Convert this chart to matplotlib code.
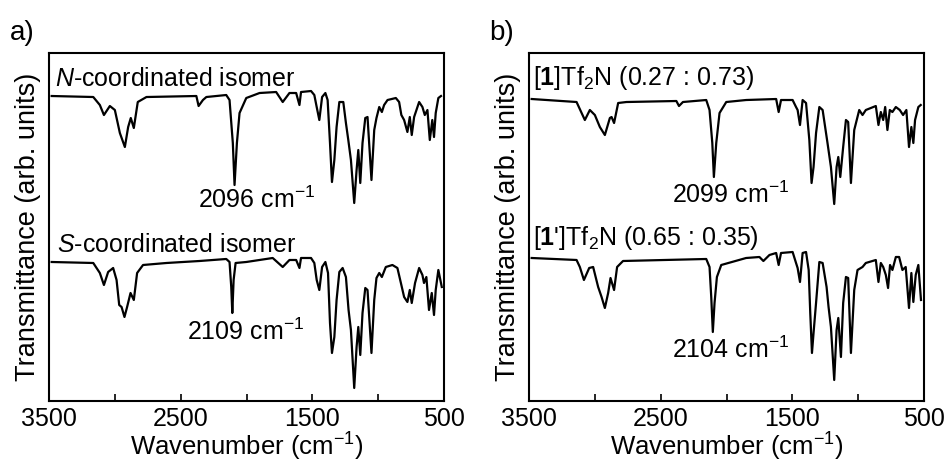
import numpy as np
import matplotlib
matplotlib.use("Agg")
import matplotlib.pyplot as plt

plt.rcParams["font.family"] = ["Liberation Sans", "DejaVu Sans"]
plt.rcParams["mathtext.fontset"] = "custom"
plt.rcParams["mathtext.rm"] = "Liberation Sans"
plt.rcParams["mathtext.it"] = "Liberation Sans:italic"
plt.rcParams["mathtext.bf"] = "Liberation Sans:bold"

# panel a, N-coordinated isomer (upper trace)
wn_a_top = [3480, 3164, 3114, 3083, 3038, 3000, 2962, 2924, 2899, 2879,
            2856, 2826, 2760, 2381, 2364, 2331, 2305, 2154, 2129, 2104,
            2091, 2073, 2053, 2002, 1901, 1775, 1725, 1674, 1623, 1598,
            1586, 1510, 1485, 1467, 1447, 1426, 1401, 1384, 1366, 1351,
            1333, 1316, 1295, 1265, 1245, 1227, 1207, 1182, 1164, 1151,
            1136, 1119, 1098, 1081, 1051, 1030, 1013, 992, 972, 955,
            929, 866, 841, 824, 803, 778, 760, 745, 727, 689,
            664, 646, 626, 608, 589, 576, 563, 543, 523]
tr_a_top = [3.05, 3.04, 2.96, 2.86, 2.95, 2.91, 2.68, 2.54, 2.74, 2.83,
            2.73, 2.99, 3.04, 3.05, 2.95, 3.01, 3.04, 3.06, 3.01, 2.58,
            2.16, 2.58, 2.88, 3.03, 3.08, 3.09, 2.99, 3.08, 3.08, 2.96,
            3.09, 3.10, 3.06, 2.94, 2.81, 3.04, 3.08, 3.01, 2.58, 2.19,
            2.41, 2.74, 2.99, 2.99, 2.78, 2.61, 2.41, 1.98, 2.31, 2.51,
            2.18, 2.58, 2.83, 2.84, 2.21, 2.71, 2.83, 2.94, 2.89, 2.96,
            3.01, 3.03, 2.99, 2.86, 2.81, 2.69, 2.84, 2.66, 2.84, 2.99,
            2.94, 2.86, 2.91, 2.61, 2.81, 2.64, 2.88, 3.03, 3.05]

# panel a, S-coordinated isomer (lower trace)
wn_a_bot = [3480, 3164, 3114, 3083, 3051, 3013, 2987, 2967, 2949, 2927,
            2907, 2881, 2856, 2831, 2786, 2608, 2356, 2154, 2129, 2116,
            2108, 2098, 2083, 2002, 1801, 1725, 1674, 1623, 1598, 1586,
            1510, 1485, 1467, 1447, 1426, 1401, 1381, 1366, 1351, 1333,
            1316, 1295, 1270, 1245, 1225, 1207, 1182, 1164, 1151, 1136,
            1119, 1098, 1081, 1051, 1030, 1013, 992, 972, 942, 892,
            854, 824, 803, 778, 760, 745, 720, 689, 664, 652,
            634, 614, 593, 576, 563, 543, 517]
tr_a_bot = [1.39, 1.38, 1.28, 1.16, 1.29, 1.33, 1.21, 0.96, 0.94, 0.84,
            0.94, 1.08, 1.01, 1.28, 1.36, 1.38, 1.40, 1.42, 1.39, 1.14,
            0.88, 1.21, 1.38, 1.39, 1.43, 1.34, 1.41, 1.41, 1.33, 1.43,
            1.43, 1.38, 1.21, 1.11, 1.34, 1.39, 1.28, 0.78, 0.48, 0.64,
            1.01, 1.29, 1.33, 1.24, 0.91, 0.71, 0.13, 0.54, 0.74, 0.46,
            0.88, 1.13, 1.11, 0.48, 1.01, 1.23, 1.28, 1.24, 1.34, 1.36,
            1.33, 1.16, 1.04, 0.99, 1.11, 0.98, 1.18, 1.33, 1.26, 1.18,
            1.24, 0.91, 1.08, 0.86, 1.11, 1.31, 1.14]

# panel b, [1]Tf2N (upper trace)
wn_b_top = [3480, 3139, 3076, 3038, 3000, 2962, 2924, 2886, 2873, 2854,
            2823, 2760, 2381, 2361, 2331, 2154, 2129, 2108, 2096, 2078,
            2053, 2002, 1851, 1623, 1604, 1586, 1498, 1472, 1460, 1442,
            1422, 1396, 1371, 1354, 1339, 1320, 1295, 1270, 1233, 1207,
            1182, 1164, 1151, 1136, 1114, 1093, 1076, 1055, 1030, 992,
            967, 942, 866, 846, 828, 810, 795, 778, 760, 740,
            714, 684, 659, 634, 614, 596, 581, 568, 543, 525]
tr_b_top = [3.02, 2.99, 2.81, 2.91, 2.86, 2.74, 2.66, 2.83, 2.84, 2.78,
            2.98, 2.99, 3.00, 2.95, 2.99, 3.01, 2.91, 2.58, 2.24, 2.58,
            2.88, 2.99, 3.01, 3.02, 2.89, 3.01, 3.01, 2.94, 2.91, 2.76,
            3.01, 2.98, 2.61, 2.18, 2.34, 2.68, 2.94, 2.91, 2.58, 2.34,
            1.97, 2.34, 2.44, 2.24, 2.54, 2.81, 2.79, 2.18, 2.71, 2.91,
            2.86, 2.91, 2.95, 2.76, 2.89, 2.81, 2.94, 2.71, 2.91, 2.89,
            2.94, 2.91, 2.86, 2.91, 2.54, 2.74, 2.58, 2.81, 2.94, 2.96]

# panel b, [1']Tf2N (lower trace)
wn_b_bot = [3480, 3139, 3114, 3083, 3043, 3013, 2975, 2949, 2924, 2899,
            2881, 2854, 2831, 2786, 2154, 2129, 2116, 2104, 2091, 2073,
            2040, 1851, 1750, 1720, 1674, 1623, 1604, 1586, 1498, 1472,
            1460, 1442, 1422, 1396, 1376, 1364, 1351, 1339, 1320, 1295,
            1270, 1240, 1225, 1207, 1182, 1164, 1151, 1131, 1114, 1093,
            1076, 1055, 1030, 1005, 967, 942, 866, 846, 828, 810,
            790, 773, 758, 740, 714, 689, 664, 639, 614, 596,
            581, 563, 543, 523]
tr_b_bot = [1.43, 1.41, 1.34, 1.21, 1.33, 1.34, 1.14, 1.04, 0.93, 1.08,
            1.23, 1.11, 1.34, 1.40, 1.42, 1.34, 1.04, 0.69, 0.98, 1.24,
            1.36, 1.43, 1.44, 1.40, 1.46, 1.48, 1.36, 1.48, 1.49, 1.38,
            1.33, 1.19, 1.48, 1.49, 1.31, 0.88, 0.48, 0.68, 0.98, 1.39,
            1.38, 1.14, 0.94, 0.74, 0.21, 0.71, 0.83, 0.44, 0.98, 1.24,
            1.23, 0.48, 1.11, 1.31, 1.34, 1.38, 1.41, 1.19, 1.38, 1.34,
            1.26, 1.13, 1.36, 1.31, 1.44, 1.44, 1.31, 1.34, 0.93, 1.28,
            0.99, 1.26, 1.36, 1.01]

x_ticks = [3500, 3000, 2500, 2000, 1500, 1000, 500]
x_ticklabels = ["3500", "", "2500", "", "1500", "", "500"]

panels = [
    ("a)", (wn_a_top, tr_a_top), (wn_a_bot, tr_a_bot),
     r"$\mathit{N}$-coordinated isomer", r"$\mathit{S}$-coordinated isomer",
     r"2096 cm$^{-1}$", r"2109 cm$^{-1}$",
     [(3455, 3.15), (3439, 1.49), (2371, 1.93), (2455, 0.61)]),
    ("b)", (wn_b_top, tr_b_top), (wn_b_bot, tr_b_bot),
     r"[$\mathbf{1}$]Tf$_2$N (0.27 : 0.73)", r"[$\mathbf{1}$']Tf$_2$N (0.65 : 0.35)",
     r"2099 cm$^{-1}$", r"2104 cm$^{-1}$",
     [(3470, 3.16), (3470, 1.56), (2417, 1.98), (2417, 0.43)]),
]

fig = plt.figure(figsize=(9.52, 4.61), dpi=100)
lefts = [0.0515, 0.5557]
tag_x = [10 / 952, 489 / 952]

for left, tx, (tag, top, bot, lab1, lab2, pk1, pk2, pos) in zip(lefts, tag_x, panels):
    ax = fig.add_axes([left, 0.1302, 0.4149, 0.7548])
    ax.plot(top[0], top[1], color="black", lw=1.6)
    ax.plot(bot[0], bot[1], color="black", lw=1.6)
    ax.set_xlim(3500, 500)
    ax.set_ylim(0, 3.48)
    ax.set_xticks(x_ticks)
    ax.set_xticklabels(x_ticklabels)
    ax.set_yticks([])
    ax.tick_params(axis="x", direction="in", length=5, width=1.2,
                   labelsize=18, pad=4)
    for sp in ax.spines.values():
        sp.set_linewidth(1.5)
    ax.set_xlabel("Wavenumber (cm$^{-1}$)", fontsize=18.5)
    ax.xaxis.set_label_coords(0.5, -0.085)
    ax.set_ylabel("Transmittance (arb. units)", fontsize=19.5, labelpad=6)

    for txt, (x, y) in zip([lab1, lab2, pk1, pk2], pos):
        ax.text(x, y, txt, fontsize=18, ha="left", va="baseline")

    fig.text(tx, 1 - 40 / 461, tag, fontsize=20, ha="left", va="baseline")

fig.savefig("out.png", dpi=100)
